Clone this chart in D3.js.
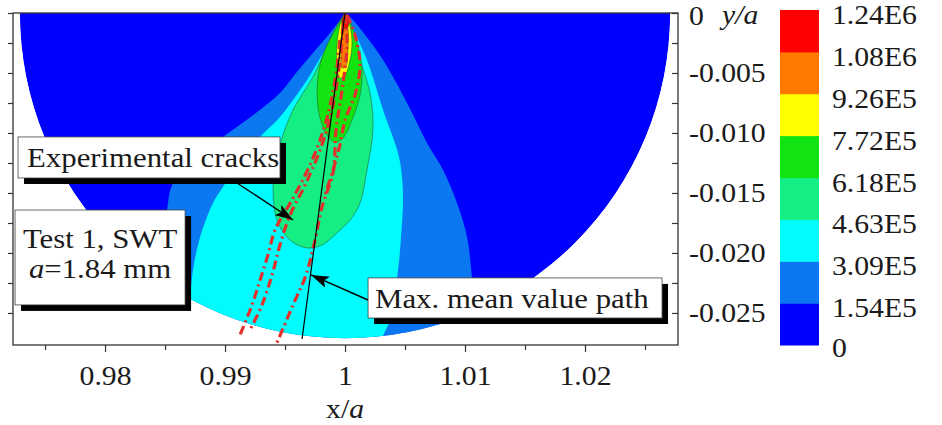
<!DOCTYPE html>
<html>
<head>
<meta charset="utf-8">
<script src="https://cdn.jsdelivr.net/npm/d3@7"></script>
<style>
body { margin: 0; background: #fff; }
svg { display: block; font-family: "Liberation Serif", "Times New Roman", "DejaVu Serif", serif; }
</style>
</head>
<body>
<svg id="chart"></svg>
<script>
// contour levels (SWT parameter) and legend
var levels = [0, 1.54e5, 3.09e5, 4.63e5, 6.18e5, 7.72e5, 9.26e5, 1.08e6, 1.24e6];
var levelLabels = ["0", "1.54E5", "3.09E5", "4.63E5", "6.18E5", "7.72E5", "9.26E5", "1.08E6", "1.24E6"];
var bandColors = ["#0000fe", "#0b78f2", "#00fcfc", "#14ee82", "#12e412", "#ffff00", "#ff7800", "#ff0000"];

// axis ticks
var xTicks = [0.98, 0.99, 1, 1.01, 1.02];
var xMinor = [0.975, 0.985, 0.995, 1.005, 1.015, 1.025];
var yTicks = [0, -0.005, -0.010, -0.015, -0.020, -0.025];
var yMinor = [-0.0025, -0.0075, -0.0125, -0.0175, -0.0225];

// evaluated domain: half disk round the crack tip (x/a = 1, y/a = 0)
var domainRadius = 0.0271;

// band outlines [x/a, y/a] (each level region)
var band154 = [[1, 0], [0.99958, -0.00058], [0.99875, -0.00167], [0.99733, -0.00333], [0.99592, -0.00500],
  [0.99458, -0.00667], [0.99225, -0.00858], [0.98983, -0.01033], [0.98750, -0.01225], [0.98567, -0.01417],
  [0.98517, -0.01642], [0.98483, -0.01975], [0.98458, -0.02308], [0.98442, -0.02642], [0.99208, -0.03058],
  [1.01042, -0.03058], [1.01108, -0.02642], [1.01058, -0.02200], [1.01017, -0.01867], [1.00933, -0.01583],
  [1.00817, -0.01308], [1.00683, -0.01083], [1.00517, -0.00750], [1.00317, -0.00392], [1.00167, -0.00183],
  [1.00067, -0.00058], [1, 0]];
var band309 = [[1, 0], [0.99933, -0.00142], [0.99808, -0.00350], [0.99683, -0.00558], [0.99567, -0.00725],
  [0.99458, -0.00867], [0.99292, -0.01033], [0.99125, -0.01225], [0.98983, -0.01450], [0.98900, -0.01583],
  [0.98792, -0.01867], [0.98733, -0.02142], [0.98708, -0.02392], [0.98692, -0.02725], [0.99208, -0.03058],
  [1.00292, -0.03058], [1.00308, -0.02725], [1.00375, -0.02558], [1.00442, -0.02142], [1.00467, -0.01867],
  [1.00483, -0.01583], [1.00475, -0.01367], [1.00442, -0.01167], [1.00317, -0.00808], [1.00183, -0.00392],
  [1.00042, -0.00083], [1, 0]];
var band463 = [[1, 0], [0.99900, -0.00167], [0.99817, -0.00350], [0.99733, -0.00533], [0.99650, -0.00667],
  [0.99567, -0.00808], [0.99483, -0.01017], [0.99417, -0.01267], [0.99400, -0.01450], [0.99433, -0.01725],
  [0.99542, -0.01892], [0.99683, -0.01958], [0.99808, -0.01933], [0.99958, -0.01808], [1.00042, -0.01725],
  [1.00125, -0.01583], [1.00183, -0.01308], [1.00225, -0.01058], [1.00233, -0.00892], [1.00208, -0.00667],
  [1.00125, -0.00392], [1.00017, -0.00117], [1, 0]];
var band618 = [[1, 0], [0.99917, -0.00142], [0.99833, -0.00308], [0.99783, -0.00475], [0.99767, -0.00683],
  [0.99792, -0.00875], [0.99850, -0.01017], [0.99917, -0.01075], [0.99983, -0.01042], [1.00058, -0.00892],
  [1.00125, -0.00683], [1.00142, -0.00475], [1.00108, -0.00267], [1.00042, -0.00075], [1, 0]];
var band772 = [[1, 0], [0.99958, -0.00100], [0.99933, -0.00267], [0.99933, -0.00433], [0.99958, -0.00542],
  [1, -0.00517], [1.00042, -0.00392], [1.00058, -0.00225], [1.00033, -0.00075], [1, 0]];
var band926 = [[1, -0.00017], [0.99975, -0.00142], [0.99967, -0.00308], [0.99975, -0.00458], [1.00008, -0.00442],
  [1.00025, -0.00292], [1.00025, -0.00125], [1, -0.00017]];
var band1080 = [[1, 0], [0.99975, -0.00058], [0.99983, -0.00125], [1.00017, -0.00125], [1.00033, -0.00058], [1, 0]];

// experimental crack paths
var crackA = [[1, -0.00017], [1.00017, -0.00267], [0.99975, -0.00642], [0.99925, -0.00975], [0.99900, -0.01333],
  [0.99808, -0.01617], [0.99750, -0.01892], [0.99675, -0.02183], [0.99567, -0.02433], [0.99425, -0.02767]];
var crackB = [[0.99983, -0.00100], [0.99958, -0.00392], [0.99892, -0.00808], [0.99792, -0.01142], [0.99667, -0.01433],
  [0.99542, -0.01683], [0.99458, -0.01933], [0.99392, -0.02183], [0.99308, -0.02433], [0.99208, -0.02642]];
var crackC = [[0.99958, -0.00225], [0.99917, -0.00558], [0.99833, -0.00933], [0.99708, -0.01267], [0.99558, -0.01558],
  [0.99417, -0.01808], [0.99358, -0.02017], [0.99292, -0.02225], [0.99225, -0.02433], [0.99125, -0.02683]];
var crackD = [[1.00017, -0.00017], [1.00083, -0.00183], [1.00125, -0.00433], [1.00083, -0.00683], [1, -0.00892],
  [0.99958, -0.01100], [0.99900, -0.01308], [0.99833, -0.01517]];

// max. mean value path
var meanPath = [[1, 0], [0.99642, -0.02717]];

// annotation boxes and arrows
var crackBox = [0.97275, -0.01033, 0.99458, -0.01375];
var testBox = [0.97250, -0.01642, 0.98667, -0.02433];
var meanBox = [1.00192, -0.02208, 1.02642, -0.02542];
var crackArrow = [[0.99100, -0.01417], [0.99567, -0.01725]];
var meanArrow = [[1.00192, -0.02392], [0.99717, -0.02183]];

var margin = {top: 13, right: 264, bottom: 80, left: 13},
    width = 942 - margin.left - margin.right,
    height = 425 - margin.top - margin.bottom;

var svg = d3.select("#chart").attr("width", 942).attr("height", 425);
var g = svg.append("g").attr("transform", "translate(" + margin.left + "," + margin.top + ")");

var x = d3.scaleLinear().domain([0.97233, 1.02775]).range([0, width]);
var y = d3.scaleLinear().domain([-0.02767, 0]).range([height, 0]);

var defs = svg.append("defs");
defs.append("clipPath").attr("id", "plotClip").append("rect").attr("width", width).attr("height", height);
var r = x(1 + domainRadius) - x(1);
var halfDisk = d3.arc().innerRadius(0).outerRadius(r).startAngle(Math.PI / 2).endAngle(3 * Math.PI / 2);
defs.append("clipPath").attr("id", "diskClip").append("path")
  .attr("transform", "translate(" + x(1) + "," + y(0) + ")")
  .attr("d", halfDisk());
defs.append("marker").attr("id", "arrow").attr("markerUnits", "userSpaceOnUse")
  .attr("markerWidth", 20).attr("markerHeight", 12).attr("refX", 18).attr("refY", 6).attr("orient", "auto")
  .append("path").attr("d", "M0,0 L18,6 L0,12 L4,6 Z").attr("fill", "#000");

var plot = g.append("g").attr("clip-path", "url(#plotClip)");
var field = plot.append("g").attr("clip-path", "url(#diskClip)");

field.append("path")
  .attr("transform", "translate(" + x(1) + "," + y(0) + ")")
  .attr("d", halfDisk())
  .attr("fill", bandColors[0]);

var outline = d3.line().x(d => x(d[0])).y(d => y(d[1])).curve(d3.curveCatmullRom.alpha(0.5));
var bands = [band154, band309, band463, band618, band772, band926, band1080];
bands.forEach(function (b, i) {
  field.append("path")
    .attr("d", outline(b) + "Z")
    .attr("fill", bandColors[i + 1])
    .attr("stroke", i >= 2 ? "#2c5e2c" : "none")
    .attr("stroke-width", 0.7)
    .attr("stroke-opacity", 0.8);
});

// cracks
var crackLine = d3.line().x(d => x(d[0])).y(d => y(d[1])).curve(d3.curveCatmullRom);
[crackA, crackB, crackC, crackD].forEach(function (c) {
  plot.append("path")
    .attr("d", crackLine(c))
    .attr("fill", "none")
    .attr("stroke", "#e3302c")
    .attr("stroke-width", 3.2)
    .attr("stroke-dasharray", "9,4,2,4");
});

plot.append("path")
  .attr("d", d3.line().x(d => x(d[0])).y(d => y(d[1]))(meanPath))
  .attr("stroke", "#000").attr("stroke-width", 1.2).attr("fill", "none");

// axes
function styleText(sel, size) {
  sel.attr("font-family", null);
  sel.selectAll("text").attr("font-size", size).attr("fill", "#1a1a1a")
    .attr("transform", "scale(1.1,1)");
}
function styleTicks(sel) {
  sel.select(".domain").remove();
  sel.selectAll("line").attr("stroke", "#333").attr("stroke-width", 1.2);
}

var xAxis = g.append("g").attr("transform", "translate(0," + height + ")")
  .call(d3.axisBottom(x).tickValues(xTicks).tickSize(7).tickPadding(14)
    .tickFormat(d => d === 1 ? "1" : d3.format(".2f")(d)));
styleTicks(xAxis); styleText(xAxis, 27);
var xAxisMinor = g.append("g").attr("transform", "translate(0," + height + ")")
  .call(d3.axisBottom(x).tickValues(xMinor).tickSize(5).tickFormat(""));
styleTicks(xAxisMinor);

var yLeft = g.append("g")
  .call(d3.axisLeft(y).tickValues(yTicks.concat(yMinor)).tickSize(5).tickFormat(""));
styleTicks(yLeft);

var yRight = g.append("g").attr("transform", "translate(" + width + ",0)")
  .call(d3.axisRight(y).tickValues(yTicks).tickSizeInner(-6).tickSizeOuter(0).tickPadding(10)
    .tickFormat(d => d === 0 ? "0" : d.toFixed(3)));
styleTicks(yRight); styleText(yRight, 27);
yRight.selectAll(".tick text").filter(d => d === 0).attr("dy", "0.42em");
var yRightMinor = g.append("g").attr("transform", "translate(" + width + ",0)")
  .call(d3.axisRight(y).tickValues(yMinor).tickSizeInner(-6).tickSizeOuter(0).tickFormat(""));
styleTicks(yRightMinor);

// frame
g.append("rect").attr("width", width).attr("height", height)
  .attr("fill", "none").attr("stroke", "#333").attr("stroke-width", 1.3);

function label(parent, px, py, anchor, size) {
  return parent.append("g").attr("transform", "translate(" + px + "," + py + ") scale(1.1,1)")
    .append("text").attr("text-anchor", anchor).attr("font-size", size).attr("fill", "#1a1a1a");
}

var xl = label(g, x(1), height + 73, "middle", 27);
xl.append("tspan").text("x/");
xl.append("tspan").attr("font-style", "italic").text("a");
label(g, width + 44, 11, "start", 27).attr("font-style", "italic").text("y/a");

// annotation boxes
function box(b) {
  var x0 = x(b[0]), y0 = y(b[1]), w = x(b[2]) - x0, h = y(b[3]) - y0;
  g.append("rect").attr("x", x0 + 6).attr("y", y0 + 6).attr("width", w).attr("height", h).attr("fill", "#000");
  g.append("rect").attr("x", x0).attr("y", y0).attr("width", w).attr("height", h)
    .attr("fill", "#fff").attr("stroke", "#444").attr("stroke-width", 0.8);
  return {x: x0, y: y0, w: w, h: h};
}
function arrow(a) {
  g.append("path").attr("d", d3.line().x(d => x(d[0])).y(d => y(d[1]))(a))
    .attr("stroke", "#000").attr("stroke-width", 1.4).attr("marker-end", "url(#arrow)");
}

arrow(crackArrow);
arrow(meanArrow);

var b1 = box(crackBox);
label(g, b1.x + 9, b1.y + 30, "start", 28).text("Experimental cracks");
var b2 = box(testBox);
label(g, b2.x + b2.w / 2, b2.y + 38, "middle", 28).text("Test 1, SWT");
var t2 = label(g, b2.x + b2.w / 2, b2.y + 68, "middle", 28);
t2.append("tspan").attr("font-style", "italic").text("a");
t2.append("tspan").text("=1.84 mm");
var b3 = box(meanBox);
label(g, b3.x + 7, b3.y + 30, "start", 28).text("Max. mean value path");

// colour bar
var legendY = d3.scalePoint().domain(levelLabels).range([345, 10]);
var legend = svg.append("g");
levelLabels.slice(0, 8).forEach(function (lab, i) {
  var top = legendY(levelLabels[i + 1]), bottom = legendY(lab);
  legend.append("rect").attr("x", 780).attr("y", top).attr("width", 39).attr("height", bottom - top + 0.5)
    .attr("fill", bandColors[i]);
});
levelLabels.forEach(function (lab, i) {
  label(legend, 832, legendY(lab) + (i === 0 ? 12 : 14), "start", 27).text(lab);
});
</script>
</body>
</html>
